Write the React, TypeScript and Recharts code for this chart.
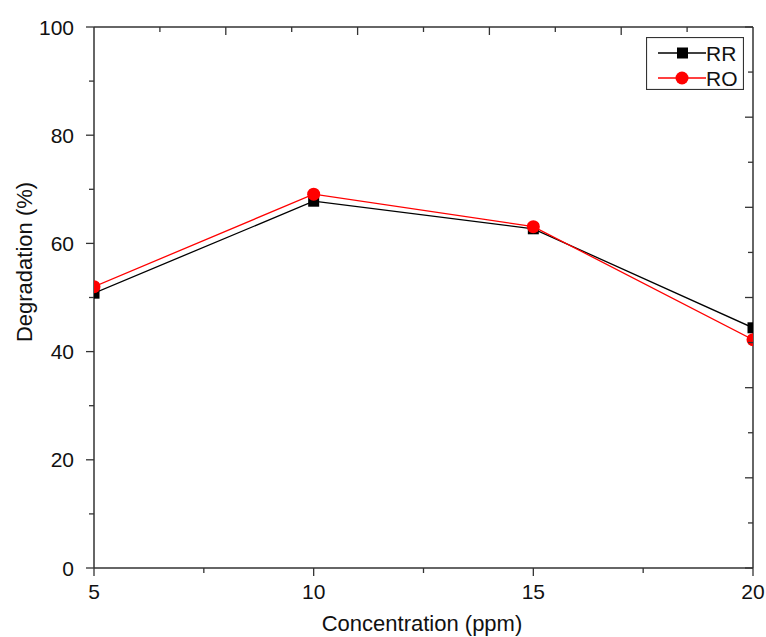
import { LineChart, Line, XAxis, YAxis, Legend } from 'recharts'

const concentration = [5, 10, 15, 20]
const rrValues = [50.8, 67.8, 62.7, 44.4]
const roValues = [52.0, 69.1, 63.1, 42.2]

const bottomTicks = [5, 7.5, 10, 12.5, 15, 17.5, 20]
const leftTicks = [0, 10, 20, 30, 40, 50, 60, 70, 80, 90, 100]
const topTicks = [6.5, 8, 9.5, 11, 12.5, 14, 15.5, 17, 18.5]
const topMajor = [8, 11, 14, 17]
const rightTicks = [0, 8.33, 16.67, 25, 33.33, 41.67, 50, 58.33, 66.67, 75, 83.33, 91.67, 100]

const data = concentration.map((c, i) => ({ c, RR: rrValues[i], RO: roValues[i] }))

const FONT = '"Liberation Sans", Arial, sans-serif'
const AXIS = '#333'
const TEXT = '#111'

// plot box (matches the chart margins below)
const PLOT_LEFT = 94
const PLOT_RIGHT = 753
const PLOT_TOP = 27
const X_MIN = 5
const X_MAX = 20

const LeftTick = (p: any) => {
  const major = p.index % 2 === 0
  return (
    <g>
      <line x1={p.x - (major ? 8 : 5)} x2={p.x} y1={p.y} y2={p.y} stroke={AXIS} strokeWidth={1.3} />
      {major && (
        <text x={p.x - 20} y={p.y} textAnchor="end" dominantBaseline="central"
          fontSize={21} fontFamily={FONT} fill={TEXT}>{p.payload.value}</text>
      )}
    </g>
  )
}

const BottomTick = (p: any) => {
  const major = p.index % 2 === 0
  return (
    <g>
      <line x1={p.x} x2={p.x} y1={p.y} y2={p.y + (major ? 8 : 5)} stroke={AXIS} strokeWidth={1.3} />
      {major && (
        <text x={p.x} y={p.y + 31} textAnchor="middle"
          fontSize={21} fontFamily={FONT} fill={TEXT}>{p.payload.value}</text>
      )}
    </g>
  )
}

const RightTick = (p: any) => {
  const major = p.index % 2 === 0
  return <line x1={p.x - (major ? 8 : 5)} x2={p.x} y1={p.y} y2={p.y} stroke={AXIS} strokeWidth={1.3} />
}

// inward ticks on the top frame edge
const TopTicks = () => (
  <g>
    {topTicks.map((t) => {
      const x = PLOT_LEFT + ((t - X_MIN) / (X_MAX - X_MIN)) * (PLOT_RIGHT - PLOT_LEFT)
      const len = topMajor.includes(t) ? 8 : 5
      return <line key={t} x1={x} x2={x} y1={PLOT_TOP} y2={PLOT_TOP + len} stroke={AXIS} strokeWidth={1.3} />
    })}
  </g>
)

const Square = (p: any) => (
  <rect key={`sq-${p.index}`} x={p.cx - 5.5} y={p.cy - 5.5} width={11} height={11} fill="#000" />
)

const LegendBox = () => (
  <svg width={98} height={53} style={{ display: 'block' }}>
    <rect x={0.5} y={0.5} width={97} height={52} fill="#fff" stroke={AXIS} strokeWidth={1.2} />
    <line x1={12} x2={60} y1={16} y2={16} stroke="#000" strokeWidth={1.3} />
    <rect x={31} y={10.5} width={11} height={11} fill="#000" />
    <text x={60} y={16} dominantBaseline="central" fontSize={21} fontFamily={FONT} fill={TEXT}>RR</text>
    <line x1={12} x2={60} y1={41} y2={41} stroke="#ff0000" strokeWidth={1.3} />
    <circle cx={36} cy={41} r={6.5} fill="#ff0000" />
    <text x={60} y={41} dominantBaseline="central" fontSize={21} fontFamily={FONT} fill={TEXT}>RO</text>
  </svg>
)

export default function App() {
  return (
    <div style={{ position: 'absolute', left: 0, top: 0, width: 766, height: 637, background: '#fff' }}>
      <LineChart width={766} height={637} data={data}
        margin={{ top: 26, right: 12, bottom: 68, left: 93 }}>
        <XAxis dataKey="c" type="number" domain={[X_MIN, X_MAX]} ticks={bottomTicks} interval={0}
          height={1} tickSize={0} tickMargin={0} tick={<BottomTick />} allowDataOverflow
          axisLine={{ stroke: AXIS, strokeWidth: 1.5 }} tickLine={false} />
        <XAxis xAxisId="top" dataKey="c" orientation="top" type="number" domain={[X_MIN, X_MAX]}
          height={1} tick={false} allowDataOverflow
          axisLine={{ stroke: AXIS, strokeWidth: 1.5 }} tickLine={false} />
        <YAxis type="number" domain={[0, 100]} ticks={leftTicks} interval={0} width={1}
          tickSize={0} tickMargin={0} tick={<LeftTick />} allowDataOverflow
          axisLine={{ stroke: AXIS, strokeWidth: 1.5 }} tickLine={false} />
        <YAxis yAxisId="right" orientation="right" type="number" domain={[0, 100]} ticks={rightTicks}
          interval={0} width={1} tickSize={0} tickMargin={0} tick={<RightTick />} allowDataOverflow
          axisLine={{ stroke: AXIS, strokeWidth: 1.5 }} tickLine={false} />
        <Legend layout="vertical" align="center" verticalAlign="middle" content={<LegendBox />}
          wrapperStyle={{ position: 'absolute', left: 646, top: 37, width: 98, height: 53 }} />
        <Line dataKey="RR" stroke="#000" strokeWidth={1.3} dot={<Square />}
          activeDot={false} isAnimationActive={false} />
        <Line dataKey="RO" stroke="#ff0000" strokeWidth={1.3}
          dot={{ r: 6.5, fill: '#ff0000', stroke: 'none' }} activeDot={false} isAnimationActive={false} />
        <TopTicks />
        <text x={24} y={262} transform="rotate(-90 24 262)" textAnchor="middle" dominantBaseline="central"
          fontSize={22} fontFamily={FONT} fill={TEXT}>Degradation (%)</text>
        <text x={422} y={631} textAnchor="middle" fontSize={22} fontFamily={FONT} fill={TEXT}>
          Concentration (ppm)
        </text>
      </LineChart>
    </div>
  )
}
